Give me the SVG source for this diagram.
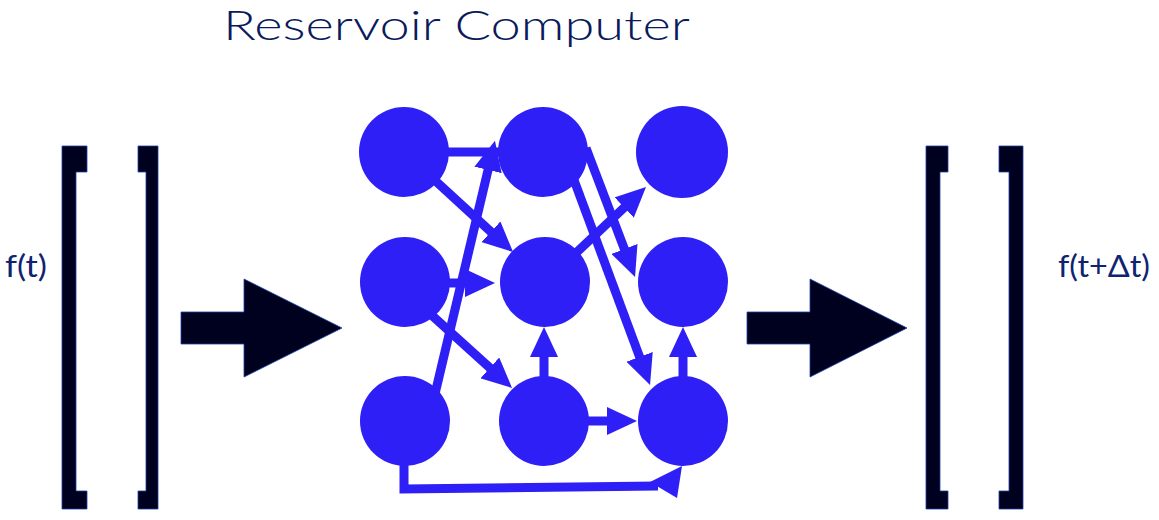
<svg xmlns="http://www.w3.org/2000/svg" width="1159" height="520" viewBox="0 0 1159 520">
<defs>
<style>
.title{font-family:Lato,"Open Sans","Liberation Sans",sans-serif;font-weight:300;font-size:42px;fill:#0b1a5c}
.lbl{font-family:Lato,"Open Sans","Liberation Sans",sans-serif;font-weight:400;font-size:31px;fill:#0f2470}
.dark{fill:#00001f;stroke:#1d3fa8;stroke-width:0.8}
.node{fill:#2e1ff6}
.edge{stroke:#2e1ff6;stroke-width:9;fill:none}
.head{fill:#2e1ff6}
</style>
<marker id="ah" markerUnits="userSpaceOnUse" viewBox="0 0 30 28" markerWidth="30" markerHeight="28" refX="2" refY="14" orient="auto">
<path d="M0,0 L30,14 L0,28 Z" fill="#2e1ff6"/>
</marker>
</defs>
<rect width="1159" height="520" fill="#ffffff"/>
<text class="title" x="223" y="40" textLength="467" lengthAdjust="spacingAndGlyphs">Reservoir Computer</text>

<g id="input">
<text class="lbl" x="5" y="277" textLength="42" lengthAdjust="spacingAndGlyphs">f(t)</text>
<path class="dark" d="M62,146 H87 V172 H76 V491 H87 V509 H62 Z"/>
<path class="dark" d="M158,146 V509 H138 V491 H146 V172 H138 V146 Z"/>
</g>
<g id="arrow-in">
<path class="dark" d="M181,312 H244 V279 L342,328 L244,377 V344 H181 Z"/>
</g>
<g id="arrow-out">
<path class="dark" d="M747,312 H810 V279 L907,328 L810,377 V344 H747 Z"/>
</g>
<g id="output">
<path class="dark" d="M926,146 H948 V172 H940 V491 H948 V509 H926 Z"/>
<path class="dark" d="M1023,146 V509 H999 V491 H1009 V172 H999 V146 Z"/>
<text class="lbl" x="1058" y="277" textLength="92" lengthAdjust="spacingAndGlyphs">f(t+Δt)</text>
</g>

<g id="connectors">
<line class="edge" x1="447" y1="152" x2="505" y2="152"/>
<line class="edge" x1="430" y1="415" x2="488.5" y2="168" marker-end="url(#ah)"/>
<line class="edge" x1="404" y1="152" x2="492.4" y2="233.1" marker-end="url(#ah)"/>
<line class="edge" x1="445" y1="283" x2="467" y2="283" marker-end="url(#ah)"/>
<line class="edge" x1="586" y1="148" x2="625.1" y2="250.8" marker-end="url(#ah)"/>
<line class="edge" x1="574" y1="180" x2="640.3" y2="358.7" marker-end="url(#ah)"/>
<line class="edge" x1="560" y1="268" x2="625.6" y2="206.2" marker-end="url(#ah)"/>
<line class="edge" x1="420" y1="304.6" x2="491.3" y2="369.2" marker-end="url(#ah)"/>
<line class="edge" x1="544" y1="380" x2="544" y2="355" marker-end="url(#ah)"/>
<line class="edge" x1="683" y1="380" x2="683" y2="355" marker-end="url(#ah)"/>
<line class="edge" x1="585" y1="421" x2="609" y2="421" marker-end="url(#ah)"/>
<path class="edge" d="M404,460 V489 L658,486"/>
<polygon class="head" points="650,482 682,466 677,498"/>
</g>

<g id="n-tl"><circle class="node" cx="404" cy="152" r="45"/></g>
<g id="n-tm"><circle class="node" cx="543" cy="152" r="45"/></g>
<g id="n-tr"><circle class="node" cx="682" cy="152" r="46"/></g>
<g id="n-ml"><circle class="node" cx="405" cy="282" r="45"/></g>
<g id="n-mm"><circle class="node" cx="545" cy="282" r="45"/></g>
<g id="n-mr"><circle class="node" cx="683" cy="282" r="45"/></g>
<g id="n-bl"><circle class="node" cx="405" cy="421" r="45"/></g>
<g id="n-bm"><circle class="node" cx="544" cy="421" r="45"/></g>
<g id="n-br"><circle class="node" cx="683" cy="421" r="45"/></g>
</svg>
